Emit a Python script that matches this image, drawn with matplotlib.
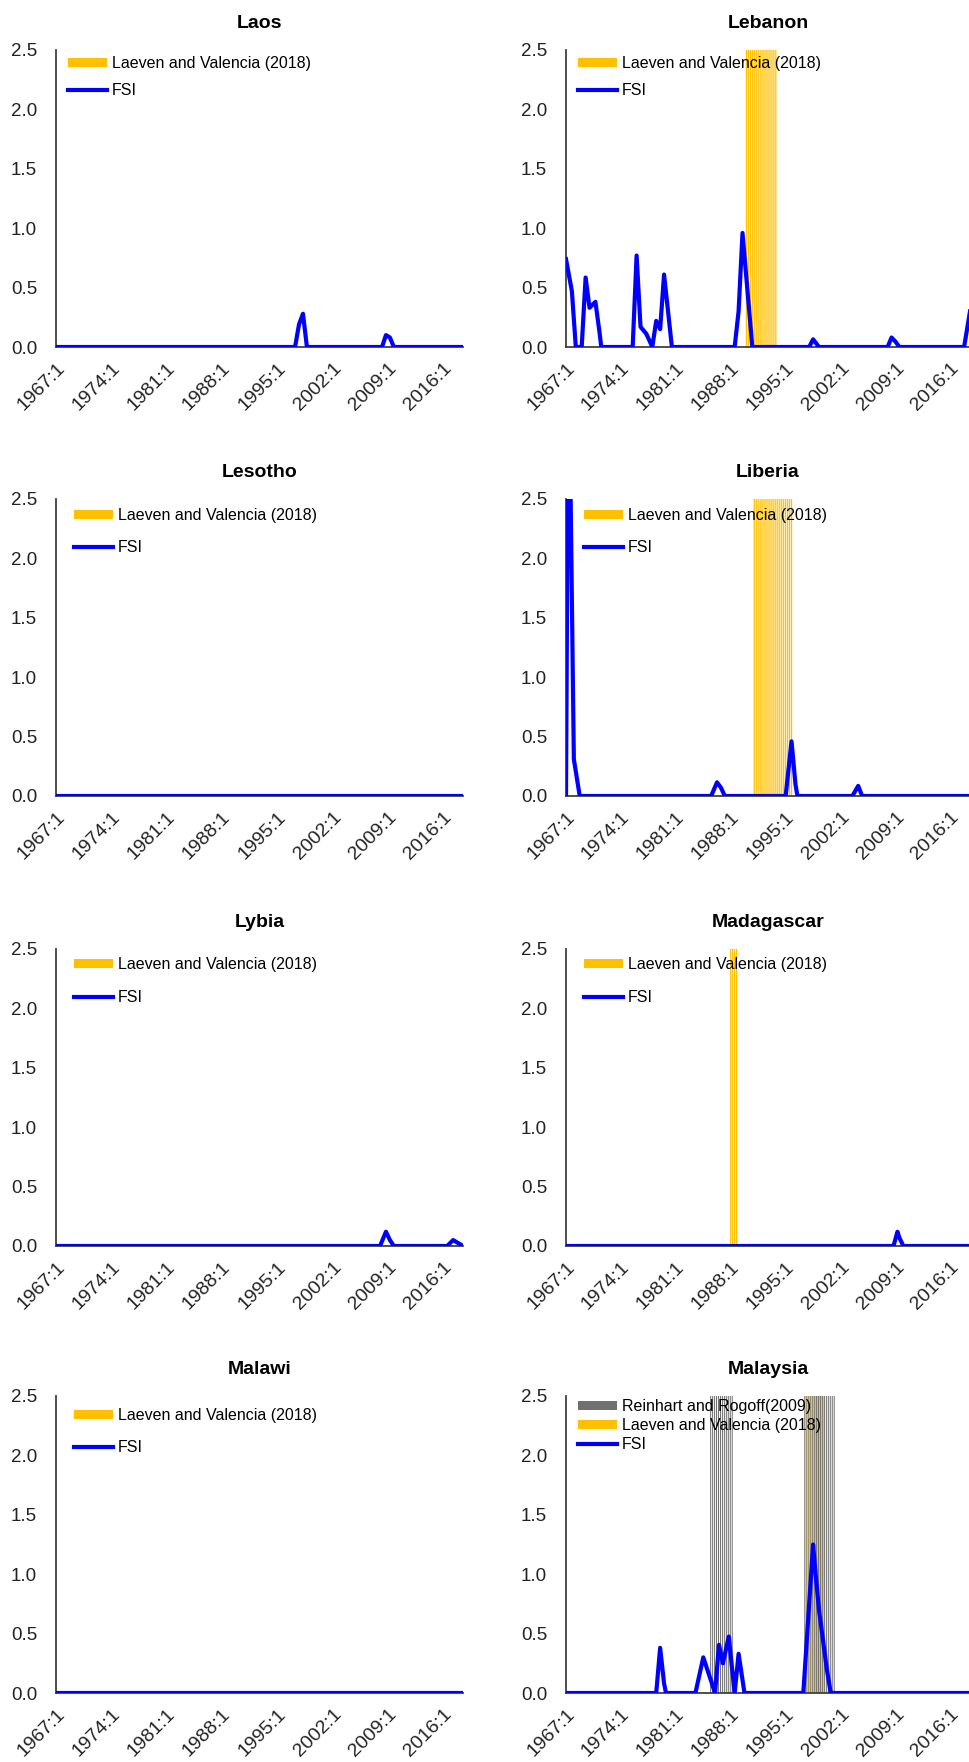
import numpy as np
import matplotlib
matplotlib.use('Agg')
import matplotlib.pyplot as plt
from matplotlib.patches import Patch
from matplotlib.lines import Line2D
from matplotlib.transforms import ScaledTranslation

plt.rcParams['font.family'] = ['Liberation Sans', 'DejaVu Sans']

x_ticks = ['1967:1', '1974:1', '1981:1', '1988:1', '1995:1', '2002:1', '2009:1', '2016:1']
x_first, x_last = '1967:1', '2018:3'

# FSI break points (quarter, value)
laos_t = ['1967:1', '1997:2', '1997:4', '1998:2', '1998:4', '2008:2', '2008:4', '2009:2', '2009:4', '2018:3']
laos_v = [0, 0, 0.19, 0.28, 0, 0, 0.10, 0.08, 0, 0]

lebanon_t = ['1967:1', '1967:4', '1968:2', '1969:1', '1969:3', '1970:1', '1970:4', '1971:2', '1971:3',
             '1975:3', '1976:1', '1976:3', '1977:2', '1978:1', '1978:3', '1979:1', '1979:3', '1980:3',
             '1988:3', '1989:1', '1989:3', '1990:4', '1998:1', '1998:3', '1999:2',
             '2008:1', '2008:3', '2009:1', '2009:3', '2017:4', '2018:3']
lebanon_v = [0.74, 0.47, 0, 0, 0.585, 0.33, 0.38, 0.135, 0,
             0, 0.77, 0.17, 0.11, 0, 0.22, 0.15, 0.61, 0,
             0, 0.30, 0.96, 0, 0, 0.065, 0,
             0, 0.08, 0.045, 0, 0, 0.30]

lesotho_t = ['1967:1', '2018:3']
lesotho_v = [0, 0]

liberia_t = ['1967:1', '1967:2', '1967:3', '1968:1', '1968:4', '1985:3', '1986:2', '1986:4', '1987:2',
             '1995:1', '1995:4', '1996:2', '1996:3', '2003:3', '2004:2', '2004:4', '2018:3']
liberia_v = [0, 3.0, 3.0, 0.31, 0, 0, 0.115, 0.07, 0,
             0, 0.46, 0.10, 0, 0, 0.085, 0, 0]

lybia_t = ['1967:1', '2008:1', '2008:4', '2009:2', '2009:4', '2016:3', '2017:2', '2018:3']
lybia_v = [0, 0, 0.12, 0.05, 0, 0, 0.05, 0]

madagascar_t = ['1967:1', '2008:4', '2009:2', '2009:3', '2010:1', '2018:3']
madagascar_v = [0, 0, 0.12, 0.07, 0, 0]

malawi_t = ['1967:1', '2018:3']
malawi_v = [0, 0]

malaysia_t = ['1967:1', '1978:3', '1979:1', '1979:3', '1979:4', '1983:3', '1984:3', '1986:1', '1986:3',
              '1987:1', '1987:4', '1988:3', '1989:1', '1989:4', '1997:2', '1998:2', '1998:3',
              '1998:4', '1999:2', '1999:4', '2000:2', '2000:4', '2018:3']
malaysia_v = [0, 0, 0.38, 0.08, 0, 0, 0.30, 0, 0.405,
              0.25, 0.475, 0, 0.33, 0, 0, 1.0, 1.25,
              1.05, 0.70, 0.45, 0.20, 0, 0]

# crisis periods
lebanon_lv = [('1990:1', '1993:4')]
liberia_lv = [('1991:1', '1995:4')]
madagascar_lv = [('1988:1', '1988:4')]
malaysia_lv = [('1997:3', '1999:4')]
malaysia_rr = [('1985:3', '1988:2'), ('1997:3', '2001:2')]

ORANGE = '#FFC000'
BLUE = '#0000FF'
GREY = '#707070'
DARK = '#404040'


def q(label):
    y, k = label.split(':')
    return int(y) + (int(k) - 1) / 4


def quarters(periods):
    out = []
    for a, b in periods:
        out += list(np.arange(q(a), q(b) + 0.01, 0.25))
    return out


W, H = 970, 1762
fig = plt.figure(figsize=(W / 100, H / 100), dpi=100)

row_top = [50, 499, 949, 1396]
ax_h = 297
col_x = [56, 566]
col_w = [407, 404]

panels = [
    ('Laos', laos_t, laos_v, [], None, 0, 0, (12, 13, 27)),
    ('Lebanon', lebanon_t, lebanon_v, lebanon_lv, None, 0, 1, (12, 13, 27)),
    ('Lesotho', lesotho_t, lesotho_v, [], None, 1, 0, (18, 16, 32)),
    ('Liberia', liberia_t, liberia_v, liberia_lv, None, 1, 1, (18, 16, 32)),
    ('Lybia', lybia_t, lybia_v, [], None, 2, 0, (18, 15, 33)),
    ('Madagascar', madagascar_t, madagascar_v, madagascar_lv, None, 2, 1, (18, 15, 33)),
    ('Malawi', malawi_t, malawi_v, [], None, 3, 0, (18, 19, 32)),
    ('Malaysia', malaysia_t, malaysia_v, malaysia_lv, malaysia_rr, 3, 1, (12, 10, 18.5)),
]

leg_fs = 11.5
leg_px = leg_fs * 100 / 72
text_h = 14.4

for title, t, v, lv, rr, row, col, (lx, ly, pitch) in panels:
    left = col_x[col] / W
    bottom = 1 - (row_top[row] + ax_h) / H
    ax = fig.add_axes([left, bottom, col_w[col] / W, ax_h / H])

    if rr is not None:
        ax.bar(np.array(quarters(rr)) - 0.06, 2.5, width=0.13, color=GREY,
               linewidth=0, zorder=1, snap=False)
        ax.bar(np.array(quarters(lv)) + 0.06, 2.5, width=0.13, color=ORANGE,
               linewidth=0, zorder=2, snap=False)
    elif lv:
        ax.bar(quarters(lv), 2.5, width=0.16, color=ORANGE, linewidth=0, zorder=2, snap=False)
    ax.plot([q(s) for s in t], v, color=BLUE, lw=3, zorder=3, solid_joinstyle='round')

    ax.set_xlim(q(x_first), q(x_last))
    ax.set_ylim(0, 2.5)
    ax.set_yticks([0, 0.5, 1.0, 1.5, 2.0, 2.5])
    ax.set_yticklabels(['0.0', '0.5', '1.0', '1.5', '2.0', '2.5'])
    ax.set_xticks([q(s) for s in x_ticks])
    ax.set_xticklabels(x_ticks, rotation=45, ha='right', va='top', rotation_mode='anchor')
    shift = ScaledTranslation(5 / 100, 0, fig.dpi_scale_trans)
    for lab in ax.get_xticklabels():
        lab.set_transform(lab.get_transform() + shift)
    ax.tick_params(axis='y', length=0, pad=13.5, labelsize=13.5, labelcolor='#222222')
    ax.tick_params(axis='x', length=0, pad=9, labelsize=14, labelcolor='#222222')
    for s in ['top', 'right']:
        ax.spines[s].set_visible(False)
    ax.spines['left'].set_color(DARK)
    ax.spines['bottom'].set_color(DARK)
    ax.spines['left'].set_linewidth(1.3)
    ax.spines['bottom'].set_linewidth(1.3)
    ax.set_title(title, fontsize=14, fontweight='bold', pad=16)

    handles, labels = [], []
    if rr is not None:
        handles.append(Patch(facecolor=GREY, edgecolor='none'))
        labels.append('Reinhart and Rogoff(2009)')
    handles.append(Patch(facecolor=ORANGE, edgecolor='none'))
    labels.append('Laeven and Valencia (2018)')
    handles.append(Line2D([], [], color=BLUE, lw=3))
    labels.append('FSI')

    anchor_y = 1 - (ly - text_h / 2) / ax_h
    ax.legend(handles, labels, loc='upper left', bbox_to_anchor=(lx / col_w[col], anchor_y),
              frameon=False, fontsize=leg_fs, borderpad=0, borderaxespad=0,
              handlelength=2.45, handleheight=0.5, handletextpad=0.3,
              labelspacing=max(0.0, (pitch - text_h) / leg_px))

fig.savefig('out.png', dpi=100)
